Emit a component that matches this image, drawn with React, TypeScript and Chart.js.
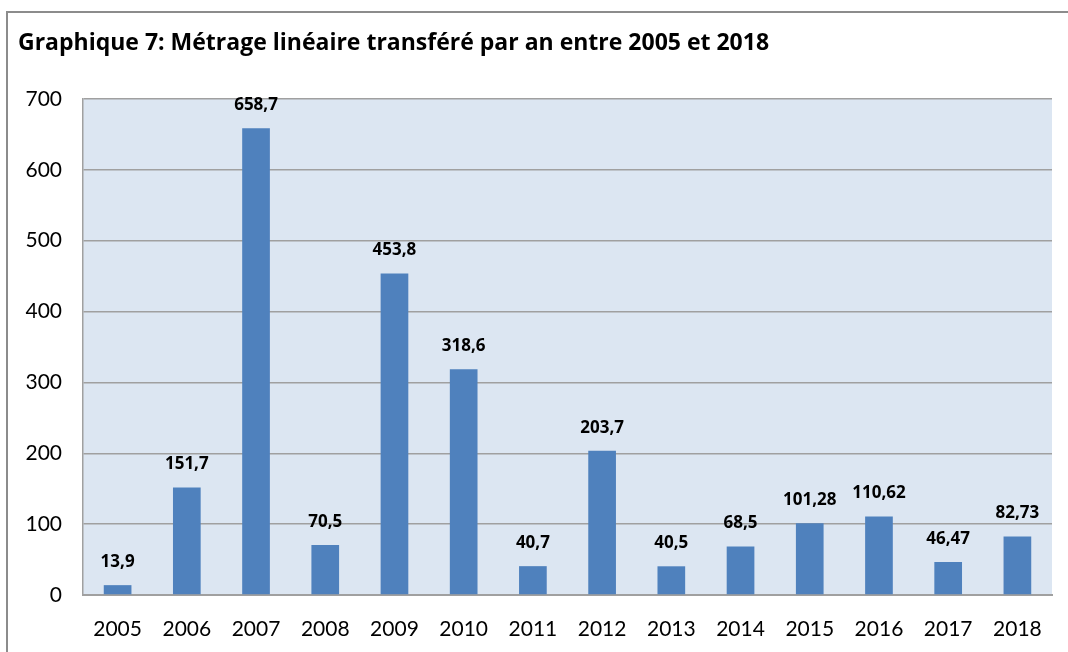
import React, { useEffect, useRef } from "react";
import { Chart, registerables } from "chart.js";

Chart.register(...registerables);

const years = ["2005", "2006", "2007", "2008", "2009", "2010", "2011", "2012", "2013", "2014", "2015", "2016", "2017", "2018"];
const metrage = [13.9, 151.7, 658.7, 70.5, 453.8, 318.6, 40.7, 203.7, 40.5, 68.5, 101.28, 110.62, 46.47, 82.73];
const titleText = "Graphique 7: Métrage linéaire transféré par an entre 2005 et 2018";

const FONT = "Lato, 'Open Sans', sans-serif";
const BOLD_FONT = "'Open Sans', Lato, sans-serif";

const framePlugin = {
  id: "frame",
  beforeDraw(chart: any) {
    const { ctx, chartArea } = chart;
    ctx.save();
    ctx.fillStyle = "#ffffff";
    ctx.fillRect(0, 0, chart.width, chart.height);
    ctx.fillStyle = "#DCE6F2";
    ctx.fillRect(chartArea.left, chartArea.top, chartArea.right - chartArea.left, chartArea.bottom - chartArea.top);
    ctx.strokeStyle = "#8c8c8c";
    ctx.lineWidth = 2;
    ctx.beginPath();
    ctx.moveTo(7, chart.height);
    ctx.lineTo(7, 12);
    ctx.lineTo(chart.width, 12);
    ctx.stroke();
    ctx.restore();
  },
};

const labelPlugin = {
  id: "barLabels",
  afterDatasetsDraw(chart: any) {
    const { ctx } = chart;
    const meta = chart.getDatasetMeta(0);
    ctx.save();
    ctx.font = `bold 17px ${BOLD_FONT}`;
    ctx.fillStyle = "#000000";
    ctx.textAlign = "center";
    ctx.textBaseline = "middle";
    meta.data.forEach((bar: any, i: number) => {
      const txt = String(metrage[i]).replace(".", ",");
      ctx.fillText(txt, bar.x, bar.y - 23);
    });
    ctx.restore();
  },
};

export default function App() {
  const ref = useRef<HTMLCanvasElement>(null);
  useEffect(() => {
    if (!ref.current) return;
    const chart = new Chart(ref.current, {
      type: "bar",
      data: {
        labels: years,
        datasets: [
          {
            data: metrage,
            backgroundColor: "#4F81BD",
            borderWidth: 0,
            categoryPercentage: 1,
            barPercentage: 0.4,
          },
        ],
      },
      options: {
        responsive: false,
        animation: false,
        layout: { padding: { left: 18, right: 16, top: 0, bottom: 0 } },
        plugins: {
          legend: { display: false },
          tooltip: { enabled: false },
          title: {
            display: true,
            text: titleText,
            align: "start",
            color: "#000000",
            font: { family: BOLD_FONT, size: 23, weight: "bold" },
            padding: { top: 30, bottom: 41.4 },
          },
        },
        scales: {
          x: {
            grid: { display: false, drawTicks: false },
            border: { display: true, color: "#a0a0a0", width: 2 },
            ticks: { color: "#000000", font: { family: FONT, size: 21 }, padding: 22, maxRotation: 0 },
            afterFit(scale: any) {
              scale.height = 57;
            },
          },
          y: {
            min: 0,
            max: 700,
            ticks: { stepSize: 100, color: "#000000", font: { family: FONT, size: 21 }, padding: 21 },
            grid: { color: "#a0a0a0", lineWidth: 1.5, drawTicks: false },
            border: { display: true, color: "#a0a0a0", width: 1.5 },
            afterFit(scale: any) {
              scale.width = 65;
            },
          },
        },
      },
      plugins: [framePlugin, labelPlugin],
    });
    return () => chart.destroy();
  }, []);
  return (
    <div style={{ position: "absolute", left: 0, top: 0, width: 1068, height: 652 }}>
      <canvas ref={ref} width={1068} height={652} style={{ width: 1068, height: 652, display: "block" }} />
    </div>
  );
}
